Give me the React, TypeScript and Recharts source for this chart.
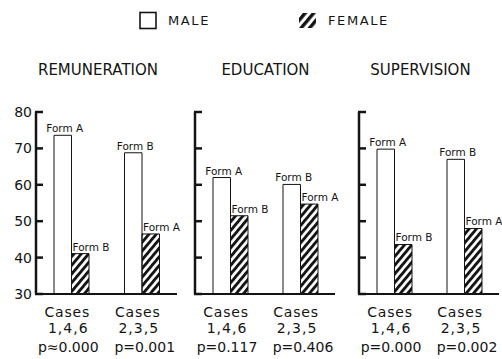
import React from 'react';
import { BarChart, Bar, XAxis, YAxis, LabelList } from 'recharts';

// ---------- data ----------
const caseGroups = ['1,4,6', '2,3,5'];
const yTicks = [30, 40, 50, 60, 70, 80];
const maleForms = ['Form A', 'Form B'];
const femaleForms = ['Form B', 'Form A'];
const panelTitles = ['REMUNERATION', 'EDUCATION', 'SUPERVISION'];

const remunerationMale = [73.6, 68.8];
const remunerationFemale = [41.1, 46.5];
const remunerationP = ['p\u22480.000', 'p=0.001'];

const educationMale = [62, 60.1];
const educationFemale = [51.5, 54.7];
const educationP = ['p=0.117', 'p=0.406'];

const supervisionMale = [69.8, 67];
const supervisionFemale = [43.6, 48];
const supervisionP = ['p=0.000', 'p=0.002'];

const legendLabels = ['MALE', 'FEMALE'];

// ---------- helpers ----------
const FONT = '"DejaVu Sans", Verdana, sans-serif';
const INK = '#141414';
const Y_AXIS_W = 36;
const PLOT_BOTTOM = 294;

const buildRows = (male: number[], female: number[], p: string[]) =>
  caseGroups.map((c, i) => ({
    cases: c,
    male: male[i],
    female: female[i],
    maleForm: maleForms[i],
    femaleForm: femaleForms[i],
    p: p[i],
  }));

const panels = [
  { title: panelTitles[0], rows: buildRows(remunerationMale, remunerationFemale, remunerationP), showY: true },
  { title: panelTitles[1], rows: buildRows(educationMale, educationFemale, educationP), showY: false },
  { title: panelTitles[2], rows: buildRows(supervisionMale, supervisionFemale, supervisionP), showY: false },
];

// layout (pixels)
const panelLayout = [
  { left: 0, width: 185, plotRight: 8 },
  { left: 159, width: 184, plotRight: 8 },
  { left: 323, width: 179, plotRight: 3 },
];
const titleCenters = [98, 265.5, 420.5];

const makeYTick = (showLabel: boolean) => (props: any) => {
  const { y, payload } = props;
  return (
    <g>
      <line x1={Y_AXIS_W - 1} x2={Y_AXIS_W + 7} y1={y} y2={y} stroke={INK} strokeWidth={2.5} />
      {showLabel && (
        <text x={Y_AXIS_W - 4} y={y} dy="0.36em" textAnchor="end" fontFamily={FONT} fontSize={14} fill={INK}>
          {payload.value}
        </text>
      )}
    </g>
  );
};

const makeXTick = (rows: any[]) => (props: any) => {
  const { x, payload } = props;
  const idx = caseGroups.indexOf(payload.value);
  const row = rows[idx] || rows[0];
  const pShift = idx === 0 ? -3 : 3;
  return (
    <g fontFamily={FONT} fill={INK}>
      <text x={x - 4} y={PLOT_BOTTOM + 23} textAnchor="middle" fontSize={14} letterSpacing={0.8}>Cases</text>
      <text x={x - 3} y={PLOT_BOTTOM + 39} textAnchor="middle" fontSize={14} letterSpacing={1}>{payload.value}</text>
      <text x={x + pShift} y={PLOT_BOTTOM + 57.5} textAnchor="middle" fontSize={14}>{row.p}</text>
    </g>
  );
};

const maleLabel = (props: any) => {
  const { x, y, width, value } = props;
  return (
    <text x={x + width / 2 + 2} y={y - 3} textAnchor="middle" fontFamily={FONT} fontSize={10.5} fill={INK}>
      {value}
    </text>
  );
};

const femaleLabel = (props: any) => {
  const { x, y, value } = props;
  return (
    <text x={x + 1} y={y - 3} textAnchor="start" fontFamily={FONT} fontSize={10.5} fill={INK}>
      {value}
    </text>
  );
};

const Panel = ({ idx }: { idx: number }) => {
  const p = panels[idx];
  const lay = panelLayout[idx];
  const hatchId = `hatch${idx}`;
  return (
    <div style={{ position: 'absolute', left: lay.left, top: 0 }}>
      <BarChart
        width={lay.width}
        height={359}
        data={p.rows}
        margin={{ top: 112, right: lay.plotRight, bottom: 0, left: 0 }}
        barGap={0}
        barSize={17.5}
      >
        <defs>
          <pattern id={hatchId} patternUnits="userSpaceOnUse" width={5.6} height={5.6} patternTransform="rotate(40)">
            <rect x={0} y={0} width={2.9} height={5.6} fill={INK} />
          </pattern>
        </defs>
        <XAxis
          dataKey="cases"
          interval={0}
          height={65}
          tickLine={false}
          tickSize={0}
          axisLine={{ stroke: INK, strokeWidth: 2.2 }}
          tick={makeXTick(p.rows)}
        />
        <YAxis
          domain={[30, 80]}
          ticks={yTicks}
          width={Y_AXIS_W}
          allowDataOverflow
          tickLine={false}
          tickSize={0}
          tickMargin={4}
          axisLine={{ stroke: INK, strokeWidth: 2.5 }}
          tick={makeYTick(p.showY)}
        />
        <Bar dataKey="male" fill="#ffffff" stroke={INK} strokeWidth={1} isAnimationActive={false}>
          <LabelList dataKey="maleForm" content={maleLabel} />
        </Bar>
        <Bar dataKey="female" fill={`url(#${hatchId})`} stroke={INK} strokeWidth={1} isAnimationActive={false}>
          <LabelList dataKey="femaleForm" content={femaleLabel} />
        </Bar>
      </BarChart>
    </div>
  );
};

export default function App() {
  return (
    <div style={{ position: 'absolute', left: 0, top: 0, width: 502, height: 359, background: '#fff', overflow: 'hidden' }}>
      <svg width={502} height={359} style={{ position: 'absolute', left: 0, top: 0 }}>
        <defs>
          <pattern id="legendHatch" patternUnits="userSpaceOnUse" width={6.5} height={6.5} patternTransform="rotate(40)">
            <rect x={0} y={0} width={3.4} height={6.5} fill={INK} />
          </pattern>
        </defs>
        <rect x={140} y={12.5} width={16} height={16} fill="#fff" stroke={INK} strokeWidth={1.6} />
        <text x={168} y={24.5} fontFamily={FONT} fontSize={13} letterSpacing={1.6} fill={INK}>{legendLabels[0]}</text>
        <rect x={299} y={13} width={17} height={15} fill="url(#legendHatch)" />
        <text x={328} y={24.5} fontFamily={FONT} fontSize={13} letterSpacing={1.6} fill={INK}>{legendLabels[1]}</text>
        {panels.map((p, i) => (
          <text key={p.title} x={titleCenters[i]} y={75} textAnchor="middle" fontFamily={FONT} fontSize={15} fill={INK}>
            {p.title}
          </text>
        ))}
      </svg>
      <Panel idx={0} />
      <Panel idx={1} />
      <Panel idx={2} />
    </div>
  );
}
